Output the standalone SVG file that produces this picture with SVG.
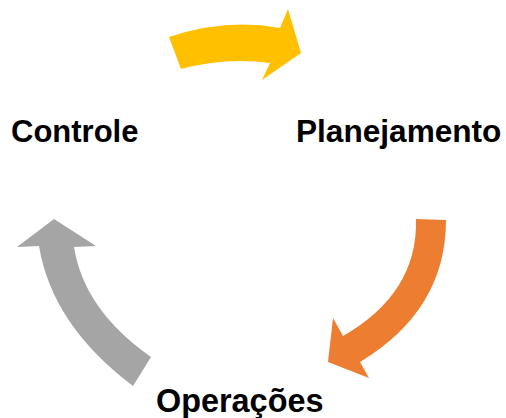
<svg xmlns="http://www.w3.org/2000/svg" width="506" height="418" viewBox="0 0 506 418">
<style>
.lbl{font-family:"Liberation Sans",Arial,sans-serif;font-weight:bold;font-size:31px;fill:#000}
</style>
<rect width="506" height="418" fill="#fff"/>
<g id="connectors">
<path id="arrow-plan" fill="#FFC000" d="M169,37 Q226,18 280,28 L288,9 L301,53 L262,80 L270,63 Q226,57 181,69 Z"/>
<path id="arrow-oper" fill="#ED7D31" d="M416,219 L446,220 Q446,310 360,362 L369,378 L328,362 L333,318 L343,336 Q418,293 416,219 Z"/>
<path id="arrow-ctrl" fill="#A5A5A5" d="M133,386 Q52,325 39,246 L17,247 L54,219 L96,246 L74,247 Q84,310 151,357 Z"/>
</g>
<g id="controle"><text class="lbl" x="11" y="142">Controle</text></g>
<g id="planejamento"><text class="lbl" x="296" y="142" style="font-size:31.6px">Planejamento</text></g>
<g id="operacoes"><text class="lbl" x="156" y="412" style="font-size:32.4px">Operações</text></g>
</svg>
